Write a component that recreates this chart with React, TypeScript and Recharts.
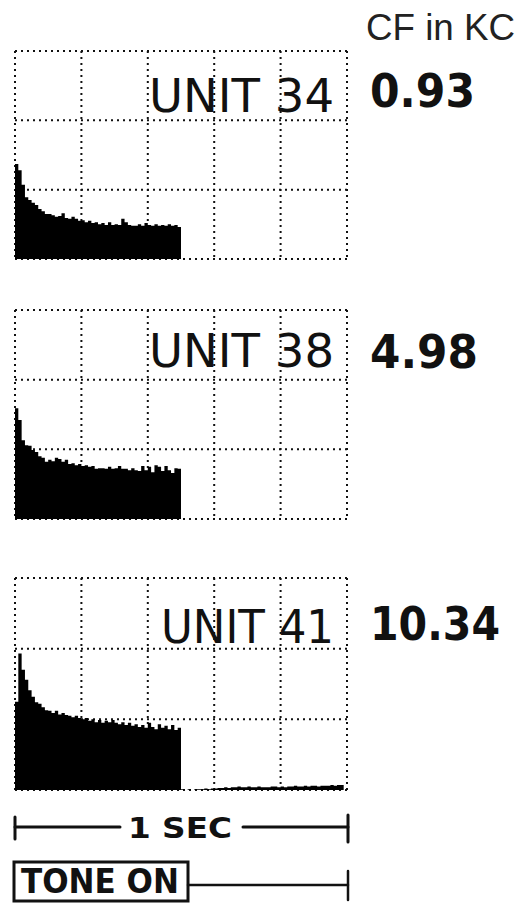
import { Area, AreaChart, CartesianGrid, XAxis, YAxis } from "recharts"

// spike counts per bin (100 bins over 1 sec), one grid row = 10
const unit34 = [
  13.7, 12.8, 10.7, 8.9, 8.5, 8.1, 7.8, 7.2, 6.9, 6.5,
  6.5, 6.3, 6.1, 6.2, 6.6, 5.9, 5.8, 6.1, 5.8, 5.5,
  5.6, 5.3, 5.5, 5.2, 5.3, 5.0, 5.2, 4.9, 5.3, 4.9,
  5.0, 4.9, 5.8, 5.3, 4.9, 4.8, 4.8, 5.0, 4.8, 5.2,
  4.9, 4.8, 5.0, 4.8, 4.9, 4.8, 5.0, 4.8, 4.9, 4.6,
  0, 0, 0, 0, 0, 0, 0, 0, 0, 0,
  0, 0, 0, 0, 0, 0, 0, 0, 0, 0,
  0, 0, 0, 0, 0, 0, 0, 0, 0, 0,
  0, 0, 0, 0, 0, 0, 0, 0, 0, 0,
  0, 0, 0, 0, 0, 0, 0, 0, 0, 0,
]

const unit38 = [
  15.9, 14.2, 11.3, 10.6, 10.5, 9.9, 9.6, 9.0, 8.8, 8.2,
  8.5, 8.3, 8.8, 8.6, 8.2, 8.5, 7.9, 8.0, 7.7, 7.9,
  7.6, 7.7, 7.5, 7.6, 7.2, 7.3, 7.3, 7.2, 7.5, 7.2,
  7.3, 7.6, 7.2, 7.2, 7.0, 7.3, 7.0, 6.9, 7.6, 7.0,
  7.5, 6.7, 7.7, 7.5, 6.9, 7.6, 7.0, 6.6, 7.3, 7.2,
  0, 0, 0, 0, 0, 0, 0, 0, 0, 0,
  0, 0, 0, 0, 0, 0, 0, 0, 0, 0,
  0, 0, 0, 0, 0, 0, 0, 0, 0, 0,
  0, 0, 0, 0, 0, 0, 0, 0, 0, 0,
  0, 0, 0, 0, 0, 0, 0, 0, 0, 0,
]

const unit41 = [
  12.5, 19.3, 17.0, 15.6, 14.1, 13.2, 12.4, 12.2, 11.7, 11.3,
  11.2, 10.9, 11.2, 10.7, 10.9, 10.6, 10.5, 10.3, 10.5, 10.2,
  10.0, 10.2, 9.8, 10.0, 9.6, 9.9, 9.5, 9.8, 9.6, 9.9,
  9.5, 9.3, 9.6, 9.2, 9.5, 9.1, 9.3, 8.9, 9.2, 8.8,
  9.5, 8.9, 8.6, 9.3, 8.8, 9.1, 8.6, 9.2, 8.5, 8.8,
  0.1, 0, 0.1, 0, 0.1, 0.1, 0.1, 0.2, 0.1, 0.2,
  0.2, 0.3, 0.3, 0.4, 0.3, 0.4, 0.4, 0.5, 0.4, 0.4,
  0.5, 0.4, 0.4, 0.5, 0.4, 0.4, 0.4, 0.5, 0.5, 0.4,
  0.5, 0.4, 0.5, 0.5, 0.6, 0.5, 0.5, 0.6, 0.5, 0.6,
  0.6, 0.5, 0.6, 0.6, 0.6, 0.7, 0.6, 0.7, 0.7, 0.6,
]

const units = ["UNIT 34", "UNIT 38", "UNIT 41"]
const cfKc = ["0.93", "4.98", "10.34"]

const table = unit34.map((v, i) => ({
  bin: i,
  u34: v,
  u38: unit38[i],
  u41: unit41[i],
}))

const panels = [
  { key: "u34", top: 51, h: 208, labelY: 112, cfY: 107, cfLen: 105, unitLen: 185 },
  { key: "u38", top: 310, h: 209, labelY: 367, cfY: 368, cfLen: 108, unitLen: 185 },
  { key: "u41", top: 578, h: 212, labelY: 643, cfY: 640, cfLen: 130, unitLen: 173 },
]

const M = 4
const LEFT = 15
const RIGHT = 177
const W = 524

const ink = "#111"

const vGen = ({ offset }: any) => {
  const w = offset.width ?? W - offset.left - offset.right
  return [0, 1, 2, 3, 4, 5].map((k) => offset.left + (w * k) / 5)
}
const hGen = (h: number) => ({ offset }: any) =>
  [0, 1, 2, 3].map((k) => offset.top + (h * k) / 3)

const Panel = ({ p }: { p: (typeof panels)[number] }) => (
  <div style={{ position: "absolute", left: 0, top: p.top - M }}>
    <AreaChart
      width={W}
      height={p.h + 2 * M}
      data={table}
      margin={{ top: M, bottom: M, left: LEFT, right: RIGHT }}
    >
      <CartesianGrid
        stroke={ink}
        strokeWidth={2}
        strokeDasharray="2 4"
        verticalCoordinatesGenerator={vGen}
        horizontalCoordinatesGenerator={hGen(p.h)}
      />
      <XAxis dataKey="bin" type="number" domain={[0, 100]} hide />
      <YAxis domain={[0, 30]} hide />
      <Area
        dataKey={p.key}
        type="stepAfter"
        fill="#000"
        fillOpacity={1}
        stroke="none"
        dot={false}
        activeDot={false}
        isAnimationActive={false}
      />
    </AreaChart>
  </div>
)

export default function App() {
  return (
    <div style={{ position: "absolute", left: 0, top: 0, width: W, height: 905, background: "#fff" }}>
      {panels.map((p) => (
        <Panel key={p.key} p={p} />
      ))}
      <svg width={W} height={905} style={{ position: "absolute", left: 0, top: 0, pointerEvents: "none" }}>
        <text x={366} y={40} fontFamily="Liberation Sans" fontSize={36} fill="#222" textLength={149} lengthAdjust="spacingAndGlyphs">
          CF in KC
        </text>
        {panels.map((p, i) => (
          <g key={p.key}>
            <text
              x={334 - p.unitLen}
              y={p.labelY}
              fontFamily="DejaVu Sans"
              fontSize={46}
              fill={ink}
              textLength={p.unitLen}
              lengthAdjust="spacingAndGlyphs"
            >
              {units[i]}
            </text>
            <text
              x={370}
              y={p.cfY}
              fontFamily="DejaVu Sans"
              fontWeight="bold"
              fontSize={46}
              fill={ink}
              textLength={p.cfLen}
              lengthAdjust="spacingAndGlyphs"
            >
              {cfKc[i]}
            </text>
          </g>
        ))}
        {/* 1 sec scale */}
        <g stroke={ink} strokeWidth={3} strokeLinecap="round">
          <line x1={15} y1={827} x2={120} y2={827} />
          <line x1={15} y1={817} x2={15} y2={839} />
          <line x1={243} y1={827} x2={348} y2={827} />
          <line x1={348} y1={815} x2={348} y2={842} />
        </g>
        <text x={128} y={838} fontFamily="DejaVu Sans" fontWeight="bold" fontSize={29} fill={ink} textLength={104} lengthAdjust="spacingAndGlyphs">
          1 SEC
        </text>
        {/* tone marker */}
        <rect x={14} y={862} width={174} height={39} fill="none" stroke={ink} strokeWidth={3} />
        <text x={21} y={893} fontFamily="DejaVu Sans" fontWeight="bold" fontSize={34} fill={ink} textLength={158} lengthAdjust="spacingAndGlyphs">
          TONE ON
        </text>
        <g stroke={ink} strokeWidth={2.5} strokeLinecap="round">
          <line x1={188} y1={885} x2={348} y2={885} />
          <line x1={348} y1={871} x2={348} y2={900} />
        </g>
      </svg>
    </div>
  )
}
